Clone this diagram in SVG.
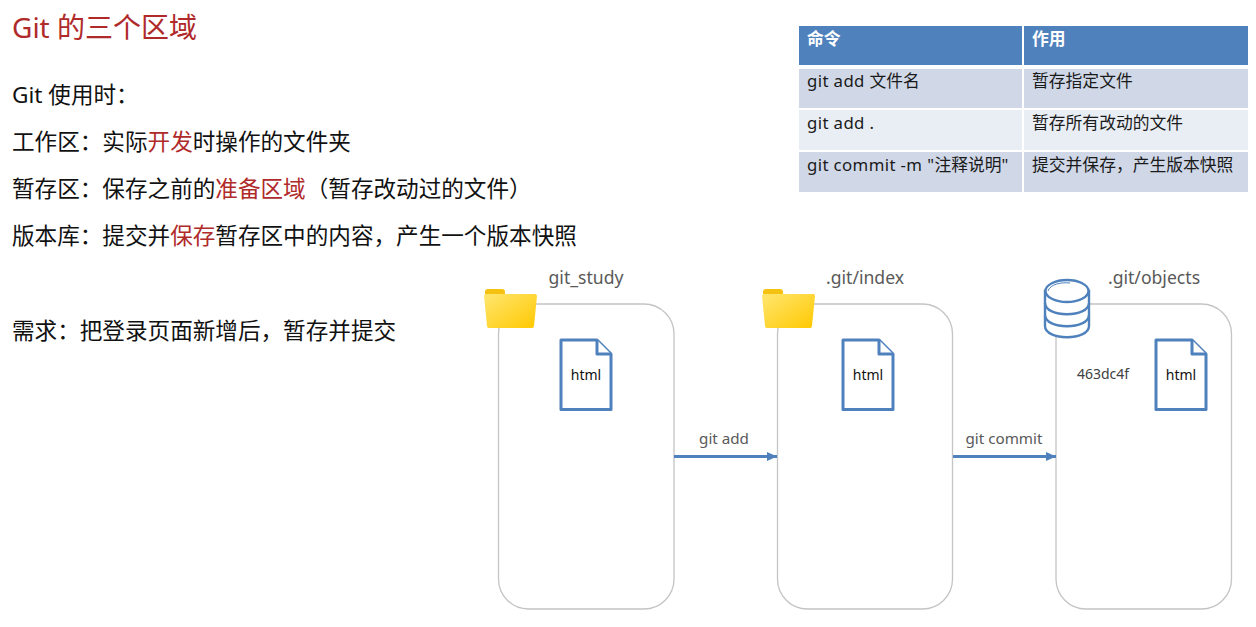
<svg xmlns="http://www.w3.org/2000/svg" width="1256" height="627" viewBox="0 0 1256 627">
<style>
text{font-family:"Noto Sans","Noto Sans CJK SC",sans-serif;white-space:pre}
.title{font-size:28px;fill:#b02a2a}
.body{font-size:22.6px;fill:#111}
.red{fill:#b02a2a}
.th{font-size:16.8px;font-weight:700;fill:#fff}
.td{font-size:16.8px;fill:#1a1a1a}
.lat{letter-spacing:.38px}
.lab{font-size:17.6px;fill:#595959;text-anchor:middle}
.conn{font-size:15.2px;fill:#595959;text-anchor:middle}
.box{fill:#fff;stroke:#c4c4c4;stroke-width:1.3}
.doc{fill:#fff;stroke:#4f81bd;stroke-width:3;stroke-linejoin:round}
.html{font-size:14px;fill:#111;text-anchor:middle}
.edge{stroke:#4f81bd;stroke-width:3;fill:none;marker-end:url(#arrow)}
.db{fill:#fff;stroke:#4f81bd;stroke-width:2.4}
.dbl{fill:none;stroke:#4f81bd;stroke-width:2.4}
.dbh{fill:none;stroke:#4f81bd;stroke-width:1}
</style>
<defs>
<marker id="arrow" markerUnits="userSpaceOnUse" markerWidth="10" markerHeight="10" refX="10" refY="5" orient="auto"><path d="M0,.5 L10,5 L0,9.5 Z" fill="#4f81bd"/></marker>
<linearGradient id="fold" x1="0" y1="0" x2="1" y2="1"><stop offset="0" stop-color="#ffe670"/><stop offset="1" stop-color="#ffc800"/></linearGradient>
<g id="folder">
<path d="M1,3 Q1,0 4,0 L18,0 Q21,0 21,3 L21,5 L52,5 L52,12 L1,12 Z" fill="#f5c211"/>
<path d="M0,7 Q0,5 2,5 L51,5 Q53,5 53,7 L50,37 Q50,39 48,39 L5,39 Q3,39 3,37 Z" fill="url(#fold)"/>
</g>
<g id="docicon">
<path class="doc" d="M0,0 H36 L50,14 V69.500 H0 Z"/>
<path class="doc" d="M36,0 V14 H50"/>
</g>
</defs>

<g id="heading">
<text class="title" x="12" y="38">Git 的三个区域</text>
</g>
<g id="notes">
<text class="body" x="12" y="103">Git 使用时&#xFF1A;</text>
<text class="body" x="12" y="150">工作区&#xFF1A;实际<tspan class="red">开发</tspan>时操作的文件夹</text>
<text class="body" x="12" y="197">暂存区&#xFF1A;保存之前的<tspan class="red">准备区域</tspan>&#xFF08;暂存改动过的文件&#xFF09;</text>
<text class="body" x="12" y="244">版本库&#xFF1A;提交并<tspan class="red">保存</tspan>暂存区中的内容&#xFF0C;产生一个版本快照</text>
<text class="body" x="12" y="339">需求&#xFF1A;把登录页面新增后&#xFF0C;暂存并提交</text>
</g>

<g id="command-table">
<rect x="799" y="26" width="223" height="39" fill="#4f81bd"/>
<rect x="1024" y="26" width="224" height="39" fill="#4f81bd"/>
<rect x="799" y="69" width="223" height="39" fill="#d0d8e8"/>
<rect x="1024" y="69" width="224" height="39" fill="#d0d8e8"/>
<rect x="799" y="110" width="223" height="40" fill="#e9edf4"/>
<rect x="1024" y="110" width="224" height="40" fill="#e9edf4"/>
<rect x="799" y="152" width="223" height="40" fill="#d0d8e8"/>
<rect x="1024" y="152" width="224" height="40" fill="#d0d8e8"/>
<text class="th" x="807" y="45">命令</text>
<text class="th" x="1032" y="45">作用</text>
<text class="td" x="807" y="87"><tspan class="lat">git add </tspan>文件名</text>
<text class="td" x="1032" y="87">暂存指定文件</text>
<text class="td" x="807" y="129"><tspan class="lat">git add .</tspan></text>
<text class="td" x="1032" y="129">暂存所有改动的文件</text>
<text class="td" x="807" y="171"><tspan class="lat">git commit -m "</tspan>注释说明"</text>
<text class="td" x="1032" y="171">提交并保存&#xFF0C;产生版本快照</text>
</g>

<g id="git-study">
<rect class="box" x="498.500" y="304" width="175.500" height="305" rx="30"/>
<use href="#folder" x="484" y="289"/>
<text class="lab" x="586" y="284">git_study</text>
<use href="#docicon" x="561" y="340"/>
<text class="html" x="586" y="380">html</text>
</g>
<g id="git-index">
<rect class="box" x="777.500" y="304" width="175" height="305" rx="30"/>
<use href="#folder" x="762" y="289"/>
<text class="lab" x="865" y="284">.git/index</text>
<use href="#docicon" x="843" y="340"/>
<text class="html" x="868" y="380">html</text>
</g>
<g id="git-objects">
<rect class="box" x="1056" y="304" width="175.500" height="305" rx="30"/>
<path class="db" d="M1045,291 V326 C1045,341 1089,341 1089,326 V291 Z"/>
<ellipse class="db" cx="1067" cy="291" rx="21.500" ry="11"/>
<path class="dbh" d="M1048,291 C1050,284 1062,282 1070,283"/>
<path class="dbl" d="M1045,303 C1045,318 1089,318 1089,303 M1045,315 C1045,330 1089,330 1089,315"/>
<text class="lab" x="1154" y="284">.git/objects</text>
<text x="1103" y="379" font-size="14" fill="#404040" text-anchor="middle">463dc4f</text>
<use href="#docicon" x="1156" y="340"/>
<text class="html" x="1181" y="380">html</text>
</g>

<g id="connectors">
<line class="edge" x1="674" y1="456.500" x2="777" y2="456.500"/>
<line class="edge" x1="953" y1="456.500" x2="1056" y2="456.500"/>
<text class="conn" x="724" y="444">git add</text>
<text class="conn" x="1004" y="444">git commit</text>
</g>
</svg>
